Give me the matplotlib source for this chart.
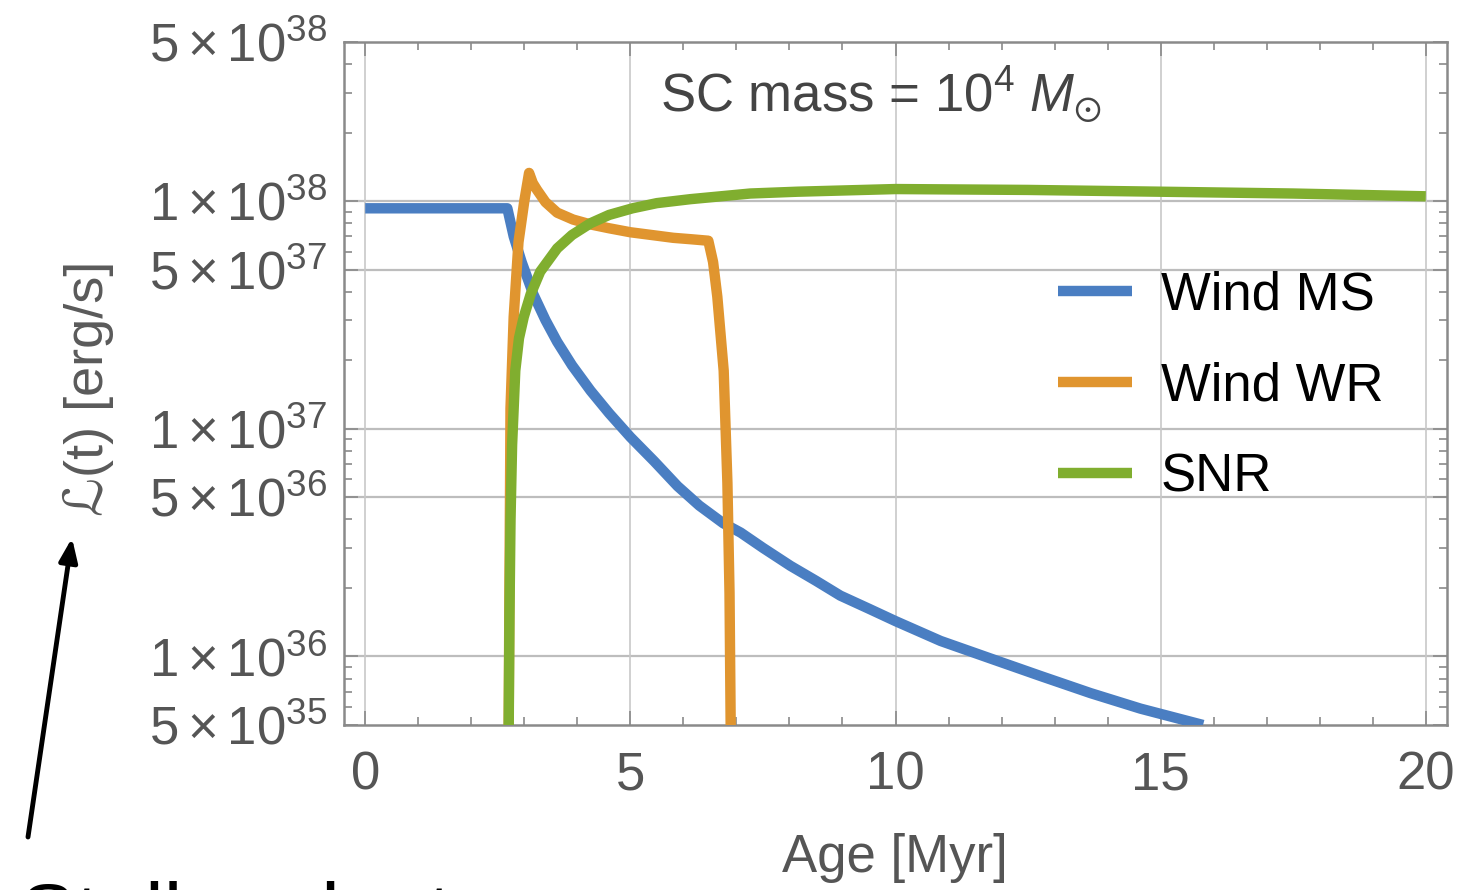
import matplotlib
matplotlib.use("Agg")
import matplotlib.pyplot as plt
from matplotlib.ticker import FixedLocator, FixedFormatter, LogLocator, MultipleLocator, NullFormatter

plt.rcParams['font.family'] = ['Liberation Sans', 'DejaVu Sans']
plt.rcParams['mathtext.fontset'] = 'custom'
plt.rcParams['mathtext.rm'] = 'Liberation Sans'
plt.rcParams['mathtext.it'] = 'Liberation Sans:italic'
plt.rcParams['mathtext.bf'] = 'Liberation Sans:bold'
plt.rcParams['mathtext.fallback'] = 'stixsans'

# ---- data ----
ms_age = [0.0, 2.68, 2.80, 2.95, 3.17, 3.40, 3.62, 3.90, 4.25, 4.60, 5.0, 5.45, 5.89, 6.30, 6.75, 7.08,
          7.50, 8.02, 8.50, 8.96, 9.50, 10.0, 10.85, 11.79, 12.74, 13.68, 14.62, 15.8]
ms_L = [9.3e37, 9.3e37, 7.0e37, 5.4e37, 3.9e37, 3.0e37, 2.41e37, 1.9e37, 1.47e37, 1.17e37, 9.2e36,
        7.2e36, 5.6e36, 4.6e36, 3.85e36, 3.5e36, 3.0e36, 2.5e36, 2.15e36, 1.85e36, 1.62e36, 1.43e36,
        1.17e36, 9.8e35, 8.2e35, 6.9e35, 5.9e35, 5.0e35]

wr_age = [2.70, 2.72, 2.74, 2.80, 2.89, 3.00, 3.09, 3.16, 3.24, 3.40, 3.62, 3.92, 4.25, 4.60, 5.0,
          5.40, 5.81, 6.15, 6.47, 6.56, 6.64, 6.76, 6.83, 6.87, 6.90]
wr_L = [3e35, 2e36, 1.23e37, 3.1e37, 6.6e37, 1.0e38, 1.33e38, 1.2e38, 1.12e38, 9.9e37, 8.9e37, 8.3e37,
        7.9e37, 7.6e37, 7.3e37, 7.1e37, 6.9e37, 6.8e37, 6.7e37, 5.4e37, 3.8e37, 1.8e37, 5.8e36, 1.9e36, 3e35]

snr_age = [2.70, 2.72, 2.74, 2.77, 2.83, 2.90, 2.99, 3.12, 3.30, 3.62, 3.90, 4.25, 4.60, 5.04, 5.5,
           6.13, 7.26, 8.15, 10.0, 12.5, 15.0, 17.5, 20.0]
snr_L = [3e35, 1.5e36, 4.0e36, 8.5e36, 1.8e37, 2.5e37, 3.1e37, 3.9e37, 4.9e37, 6.2e37, 7.1e37, 8.0e37,
         8.7e37, 9.3e37, 9.8e37, 1.02e38, 1.08e38, 1.1e38, 1.13e38, 1.12e38, 1.1e38, 1.08e38, 1.05e38]

series_names = ["Wind MS", "Wind WR", "SNR"]
series_colors = ["#4A7EC2", "#E0952F", "#80AE2F"]

x_ticks = [0, 5, 10, 15, 20]
y_ticks = [5e35, 1e36, 5e36, 1e37, 5e37, 1e38, 5e38]
y_tick_labels = [r'$5\times10^{35}$', r'$1\times10^{36}$', r'$5\times10^{36}$', r'$1\times10^{37}$',
                 r'$5\times10^{37}$', r'$1\times10^{38}$', r'$5\times10^{38}$']
y_grid = [1e36, 5e36, 1e37, 5e37, 1e38]

W, H = 1481, 890
fig = plt.figure(figsize=(W / 100, H / 100), dpi=100)
ax = fig.add_axes([344 / W, 1 - 725 / H, (1447 - 344) / W, (725 - 42) / H])

lw = 7.5
for xs, ys, name, c in zip([ms_age, wr_age, snr_age], [ms_L, wr_L, snr_L], series_names, series_colors):
    ax.plot(xs, ys, color=c, lw=lw, label=name, solid_joinstyle='round', solid_capstyle='butt', zorder=3)

ax.set_yscale('log')
ax.set_xlim(-0.4, 20.4)
ax.set_ylim(5e35, 5e38)

gray = '#8a8a8a'
for g in y_grid:
    ax.axhline(g, color='#bdbdbd', lw=1.6, zorder=1)
for g in x_ticks:
    ax.axvline(g, color='#c8c8c8', lw=1.2, zorder=1)

ax.xaxis.set_major_locator(FixedLocator(x_ticks))
ax.xaxis.set_minor_locator(MultipleLocator(1))
ax.yaxis.set_major_locator(FixedLocator(y_ticks))
ax.yaxis.set_major_formatter(FixedFormatter(y_tick_labels))
ax.yaxis.set_minor_locator(LogLocator(base=10, subs=[2, 3, 4, 6, 7, 8, 9], numticks=20))
ax.yaxis.set_minor_formatter(NullFormatter())

ax.tick_params(which='both', direction='in', top=True, right=True, color=gray, width=1.2,
               labelcolor='#555555', labelsize=38)
ax.tick_params(which='major', length=10)
ax.tick_params(which='minor', length=6)
ax.tick_params(axis='x', pad=18)
ax.tick_params(axis='y', pad=12)
for s in ax.spines.values():
    s.set_color(gray)
    s.set_linewidth(1.8)

leg = ax.legend(loc='upper left', bbox_to_anchor=(1058 / W, 1 - 270 / H), bbox_transform=fig.transFigure,
                frameon=False, fontsize=38, handlelength=1.4, handletextpad=0.55, labelspacing=0.78,
                borderpad=0, borderaxespad=0)
for t in leg.get_texts():
    t.set_color('black')
for l in leg.get_lines():
    l.set_linewidth(7.5)

fig.text(660 / W, 1 - 113 / H, r'SC mass = $10^4$ $M_{\odot}$', fontsize=38, color='#444444',
         ha='left', va='baseline')
fig.text(895 / W, 1 - 858 / H, 'Age [Myr]', fontsize=38, color='#555555', ha='center', va='center')
fig.text(88 / W, 1 - 388 / H, 'ℒ(t) [erg/s]', fontsize=39, color='#5a5a5a', ha='center', va='center',
         rotation=90, family=['Liberation Sans', 'DejaVu Sans'])

fig.text(20 / W, 1 - 942 / H, 'Stellar cluster', fontsize=60, color='black', ha='left', va='baseline',
         family=['Liberation Sans'])

ax_arrow = fig.add_axes([0, 0, 1, 1], facecolor='none')
ax_arrow.set_axis_off()
ax_arrow.set_xlim(0, W)
ax_arrow.set_ylim(H, 0)
ax_arrow.annotate('', xy=(72, 538), xytext=(28, 837),
                  arrowprops=dict(arrowstyle='-|>,head_length=1.4,head_width=0.55', color='black', lw=3.5,
                                  shrinkA=0, shrinkB=0))

fig.savefig('out.png', dpi=100)
